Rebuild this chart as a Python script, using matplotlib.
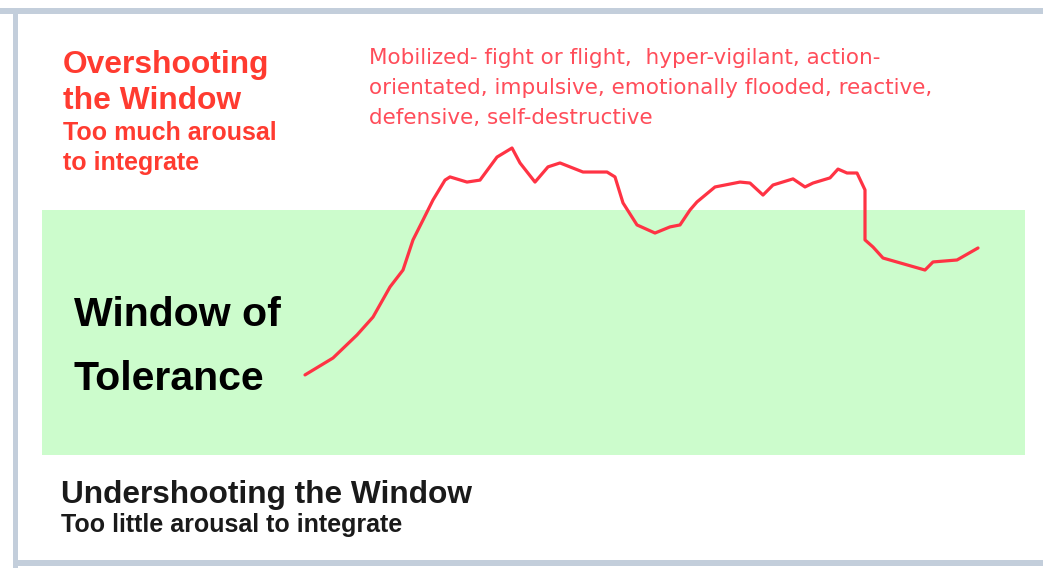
"""Window of tolerance diagram: arousal trace against the tolerance band."""

import matplotlib
matplotlib.use("Agg")
import matplotlib.pyplot as plt
from matplotlib.patches import Rectangle

# arousal trace (time in arbitrary units, arousal with
# the window of tolerance running from 0 to 100)
time = [305, 333, 357, 373, 390, 403, 413, 423, 433, 445, 450, 467, 480, 497,
        512, 520, 535, 548, 560, 583, 607, 615, 623, 637, 655, 670, 680, 690,
        697, 715, 740, 750, 763, 773, 793, 805, 813, 830, 838, 847, 857, 865,
        865, 873, 883, 907, 925, 933, 957, 978]
arousal = [32.7, 39.6, 49.0, 56.3, 68.6, 75.5, 87.8, 95.9, 104.1, 112.2,
           113.5, 111.4, 112.2, 121.6, 125.3, 119.2, 111.4, 117.6, 119.2,
           115.5, 115.5, 113.5, 102.9, 93.9, 90.6, 93.1, 93.9, 100.0, 103.3,
           109.4, 111.4, 111.0, 106.1, 110.2, 112.7, 109.4, 111.0, 113.1,
           116.7, 115.1, 115.1, 108.2, 87.8, 84.9, 80.4, 77.6, 75.5, 78.8,
           79.6, 84.5]

window_low, window_high = 0, 100
window_start, window_end = 42, 1025

RED = "#ff3b30"
LIGHT_RED = "#ff4d5a"
GREEN = "#ccfccc"
FRAME = "#c3cedb"

fig = plt.figure(figsize=(10.43, 5.68), dpi=100)
fig.patch.set_facecolor("white")

# window frame around the slide
fig.patches.append(Rectangle((0, 1 - 14 / 568), 1, 6 / 568, transform=fig.transFigure,
                             facecolor=FRAME, edgecolor="none"))
fig.patches.append(Rectangle((13 / 1043, 0), 5 / 1043, 1 - 8 / 568, transform=fig.transFigure,
                             facecolor=FRAME, edgecolor="none"))
fig.patches.append(Rectangle((13 / 1043, 2 / 568), 1, 6 / 568, transform=fig.transFigure,
                             facecolor=FRAME, edgecolor="none"))

ax = fig.add_axes([0, 0, 1, 1])
ax.set_xlim(0, 1043)
ax.set_ylim(-46.1, 185.7)
ax.axis("off")

ax.add_patch(Rectangle((window_start, window_low), window_end - window_start,
                       window_high - window_low, facecolor=GREEN, edgecolor="none"))
ax.plot(time, arousal, color="#ff3344", lw=2.3, solid_joinstyle="round",
        solid_capstyle="round")

font = "Liberation Sans"
T = ax.transAxes


def fx(px):
    return px / 1043


def fy(py):
    return 1 - py / 568


ax.text(fx(63), fy(50), "Overshooting\nthe Window", transform=T, va="top",
        fontsize=22.9, fontweight="bold", color=RED, family=font, linespacing=1.25)
ax.text(fx(63), fy(121), "Too much arousal\nto integrate", transform=T, va="top",
        fontsize=18, fontweight="bold", color=RED, family=font, linespacing=1.3)
ax.text(fx(369), fy(48), "Mobilized- fight or flight,  hyper-vigilant, action-\n"
        "orientated, impulsive, emotionally flooded, reactive,\n"
        "defensive, self-destructive", transform=T, va="top",
        fontsize=15.5, color=LIGHT_RED, family="DejaVu Sans", linespacing=1.62)
ax.text(fx(74), fy(296), "Window of\nTolerance", transform=T, va="top",
        fontsize=29.5, fontweight="bold", color="black", family=font, linespacing=1.85)
ax.text(fx(61), fy(480), "Undershooting the Window", transform=T, va="top",
        fontsize=22.8, fontweight="bold", color="#1a1a1a", family=font)
ax.text(fx(61), fy(513), "Too little arousal to integrate", transform=T, va="top",
        fontsize=18, fontweight="bold", color="#1a1a1a", family=font)

fig.savefig("out.png", dpi=100)
